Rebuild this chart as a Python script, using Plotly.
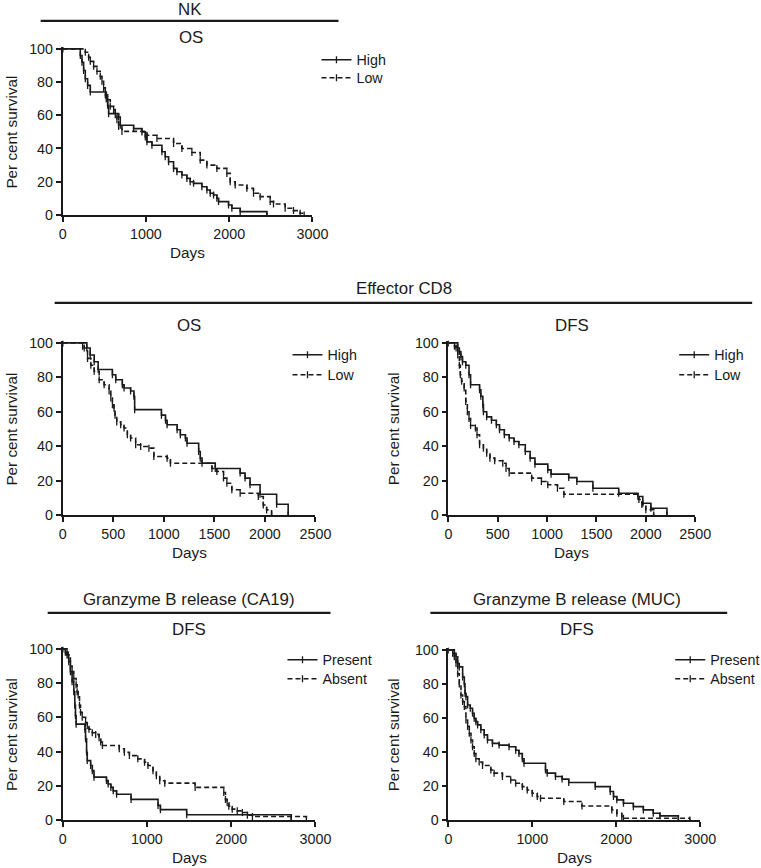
import plotly.graph_objects as go

# ---------------- DATA (Kaplan-Meier step points: days, per cent survival) ----------------
nk_high_days = [0, 212, 232, 252, 272, 300, 332, 524, 540, 552, 672, 692, 852, 952, 992, 1012, 1072,
                1192, 1232, 1272, 1332, 1372, 1432, 1492, 1532, 1572, 1672, 1732, 1772, 1812, 1852,
                1872, 1992, 2032, 2132, 2452]
nk_high_surv = [100, 96, 92, 87, 82, 78, 74, 70, 66, 61, 59, 54, 52, 50, 47, 44, 42,
                38, 35, 32, 28, 26, 24, 22, 20, 19, 17, 15, 13, 12, 10,
                8, 6, 4, 2, 0]
nk_low_days = [0, 272, 312, 332, 372, 412, 452, 472, 492, 512, 540, 572, 612, 632, 652, 672, 712,
               1012, 1132, 1332, 1432, 1552, 1652, 1732, 1852, 1972, 2012, 2072, 2212, 2292, 2372,
               2492, 2532, 2672, 2772, 2852, 2900]
nk_low_surv = [100, 98, 95, 92.5, 89.5, 86.5, 83.5, 80.5, 76.5, 72.4, 69.4, 65.4, 63.4, 60.4, 57.3, 53.3, 50.3,
               48, 46, 43, 40, 37.6, 33, 30, 28, 25, 20, 18, 16, 13, 11,
               8, 6.6, 4, 2.6, 1, 0]

cd8os_high_days = [0, 239, 272, 312, 351, 492, 525, 590, 607, 672, 705, 712, 977, 1017, 1033, 1132,
                   1164, 1214, 1230, 1345, 1361, 1378, 1509, 1755, 1804, 1853, 1952, 2116, 2230]
cd8os_high_surv = [100, 97, 93, 89, 84.5, 81.5, 78.6, 75.7, 73.8, 72, 69, 61.2, 58, 55, 52.4, 49.5,
                   46.6, 44.7, 41.7, 36.9, 33, 30.1, 27, 24.3, 21.4, 17.5, 12, 6.2, 0]
cd8os_low_days = [0, 197, 213, 246, 279, 312, 361, 410, 459, 476, 492, 508, 518, 535, 574, 607, 640,
                  672, 722, 771, 853, 902, 1033, 1066, 1476, 1525, 1591, 1624, 1673, 1755, 1935,
                  1984, 2017, 2066]
cd8os_low_surv = [100, 98, 97, 91, 87, 83.5, 78.6, 75.7, 72, 68, 64, 62, 58, 54, 52.4, 50.5, 46.6,
                  44.7, 40.8, 39.8, 38.8, 34, 33, 30, 27, 25.2, 21.4, 18.4, 14.6, 12.6, 10.7,
                  5.8, 2.9, 0]

cd8dfs_high_days = [0, 95, 111, 127, 143, 176, 209, 225, 316, 329, 349, 355, 388, 437, 486, 518, 567,
                    616, 665, 714, 779, 828, 877, 1007, 1040, 1219, 1301, 1464, 1725, 1920, 1969,
                    2051, 2214]
cd8dfs_high_surv = [100, 97, 95, 92, 89, 87, 81.5, 75.7, 72.8, 69, 64, 60, 57, 55, 52.4, 49.5, 46.6,
                    44.7, 42.7, 40.8, 36.9, 33, 29.5, 26.2, 23.7, 21.7, 19.4, 15.5, 12.6, 10.7, 6.8,
                    3.9, 0]
cd8dfs_low_days = [0, 62, 78, 95, 111, 121, 134, 160, 176, 192, 209, 225, 274, 290, 316, 355, 388,
                   421, 469, 551, 584, 616, 844, 942, 1007, 1105, 1170, 1930, 1960, 2000, 2080]
cd8dfs_low_surv = [100, 98, 97, 93, 87, 81.5, 77.7, 73.8, 66, 60, 56, 52, 50.5, 46.6, 40.8, 38.8, 35.9,
                   33, 31.5, 30, 27, 24.3, 21.4, 19.4, 17.5, 15.5, 12, 9, 6, 3, 0]

ca19_present_days = [0, 32, 52, 72, 92, 112, 132, 144, 152, 160, 264, 272, 284, 292, 332, 352, 372,
                     520, 540, 572, 600, 640, 812, 1132, 1160, 1472, 2712]
ca19_present_surv = [100, 98, 96.5, 92.5, 86.7, 80.8, 75, 67, 61, 56, 53, 47.5, 39.6, 34.7, 31.8, 28.8, 25,
                     23, 21, 19, 17, 15, 12, 8.5, 6, 3, 0]
ca19_absent_days = [0, 52, 64, 92, 112, 132, 160, 172, 184, 200, 212, 232, 272, 292, 312, 352, 392,
                    432, 452, 472, 672, 732, 792, 892, 972, 1012, 1072, 1112, 1152, 1212, 1572,
                    1912, 1932, 1952, 1972, 2012, 2072, 2132, 2192, 2252, 2892]
ca19_absent_surv = [100, 98, 96.5, 90, 86.7, 82.7, 79, 75, 73, 67, 63, 60, 57, 55, 53, 51, 50,
                    48, 45.5, 43.5, 41.6, 39.6, 37.6, 35.7, 33.7, 31.8, 28.8, 25.9, 22.9, 21.5, 19,
                    16, 12, 10, 8, 6.3, 5.3, 4.3, 2.7, 2, 0]

muc_present_days = [0, 71, 91, 111, 130, 170, 190, 198, 209, 229, 261, 288, 308, 328, 348, 387, 427,
                    466, 525, 604, 723, 802, 841, 881, 901, 1157, 1177, 1276, 1355, 1434, 1750,
                    1928, 1967, 2007, 2086, 2204, 2323, 2441, 2520, 2740]
muc_present_surv = [100, 98, 96, 92, 90, 84, 80, 74.5, 72.5, 67.6, 65.7, 62.7, 59.8, 57.8, 55.9, 53, 50,
                    47, 45, 44, 43, 41, 39, 36, 33.3, 29.4, 27.5, 25.5, 24, 22, 19.6,
                    16.7, 13.7, 11.8, 9.8, 7.8, 5.9, 3.9, 2.4, 0]
muc_absent_days = [0, 51, 71, 91, 111, 130, 150, 170, 190, 209, 229, 249, 269, 288, 308, 328, 367,
                   407, 506, 545, 644, 743, 802, 881, 940, 999, 1059, 1098, 1375, 1592, 1947,
                   2007, 2066, 2086, 2876]
muc_absent_surv = [100, 98, 96, 92, 86, 80, 73.5, 69.6, 66.7, 58.8, 55, 51, 47, 43, 39, 36, 34,
                   32, 29.4, 27.5, 25.5, 23.5, 21.6, 19.6, 17.6, 15.7, 13.7, 12.7, 10.8, 8.2, 5.9,
                   3.9, 2, 1, 0]

x_ticks_3000 = [0, 1000, 2000, 3000]
x_ticks_2500 = [0, 500, 1000, 1500, 2000, 2500]
y_ticks = [0, 20, 40, 60, 80, 100]

# ---------------- LAYOUT HELPERS ----------------
# Positions below are given in picture pixels (761x868). The photographed page showed a
# steady scale/offset relative to CSS pixels, so positions are mapped through it.
SX, SY, OX, OY = 0.975, 0.984, 3.3, 6.1
S = (SX + SY) / 2
W, H = 778, 876
FONT = "Liberation Sans, Arial, Helvetica, sans-serif"
INK = "#1a1a1a"


def px(x):
    return ((x - OX) / SX) / W


def py(y):
    return 1 - ((y - OY) / SY) / H


def fs(size):
    return round(size / S, 2)


# legend entries: (text-start x, centre y of first entry, centre y of second entry)
panels = [
    dict(k="", x0=62, x1=312, ytop=49, ybot=215, xmax=3000, ticks=x_ticks_3000,
         series=[("High", nk_high_days, nk_high_surv, "solid"),
                 ("Low", nk_low_days, nk_low_surv, "5px,3px")],
         leg=(356, 60, 78)),
    dict(k="2", x0=62, x1=315, ytop=343, ybot=515, xmax=2500, ticks=x_ticks_2500,
         series=[("High", cd8os_high_days, cd8os_high_surv, "solid"),
                 ("Low", cd8os_low_days, cd8os_low_surv, "5px,3px")],
         leg=(327, 355, 375)),
    dict(k="3", x0=448, x1=695, ytop=343, ybot=515, xmax=2500, ticks=x_ticks_2500,
         series=[("High", cd8dfs_high_days, cd8dfs_high_surv, "solid"),
                 ("Low", cd8dfs_low_days, cd8dfs_low_surv, "5px,3px")],
         leg=(714, 355, 375)),
    dict(k="4", x0=62, x1=315, ytop=649, ybot=820, xmax=3000, ticks=x_ticks_3000,
         series=[("Present", ca19_present_days, ca19_present_surv, "solid"),
                 ("Absent", ca19_absent_days, ca19_absent_surv, "5px,3px")],
         leg=(322, 660, 679)),
    dict(k="5", x0=448, x1=700, ytop=650, ybot=820, xmax=3000, ticks=x_ticks_3000,
         series=[("Present", muc_present_days, muc_present_surv, "solid"),
                 ("Absent", muc_absent_days, muc_absent_surv, "5px,3px")],
         leg=(710, 660, 679)),
]

fig = go.Figure()
layout = dict(
    width=W, height=H,
    margin=dict(l=0, r=0, t=0, b=0),
    paper_bgcolor="white", plot_bgcolor="white",
    font=dict(family=FONT, size=fs(14), color=INK),
    showlegend=True,
)

annotations = []
shapes = []
leg_counter = 0

for p in panels:
    k = p["k"]
    ext = (p["ybot"] - p["ytop"]) * 0.012
    axis_common = dict(
        showline=True, linecolor=INK, linewidth=1.6,
        ticks="outside", ticklen=5, tickwidth=1.6, tickcolor=INK,
        showgrid=False, zeroline=False,
        tickfont=dict(family=FONT, size=fs(14), color=INK),
    )
    layout["xaxis" + k] = dict(
        axis_common,
        domain=[px(p["x0"]), px(p["x1"])],
        range=[0, p["xmax"]],
        tickvals=p["ticks"],
        anchor="y" + k,
    )
    layout["yaxis" + k] = dict(
        axis_common,
        domain=[py(p["ybot"]), py(p["ytop"] - ext)],
        range=[0, 101.2],
        tickvals=y_ticks,
        anchor="x" + k,
    )
    text_x, ly1, ly2 = p["leg"]
    for (name, t, s, dash), ly in zip(p["series"], (ly1, ly2)):
        leg_counter += 1
        legname = "legend" if leg_counter == 1 else "legend%d" % leg_counter
        layout[legname] = dict(
            x=px(text_x - 40), y=py(ly), xanchor="left", yanchor="middle",
            bgcolor="rgba(0,0,0,0)", borderwidth=0, itemwidth=30,
            font=dict(family=FONT, size=fs(14), color=INK), tracegroupgap=0,
        )
        fig.add_trace(go.Scatter(
            x=t, y=s, name=name, mode="lines+markers",
            line=dict(shape="hv", color=INK, width=1.6, dash=dash),
            marker=dict(symbol="line-ns-open", size=5, color=INK, line=dict(width=1.3, color=INK)),
            xaxis="x" + k, yaxis="y" + k, legend=legname,
            hoverinfo="skip",
        ))
    # axis titles (as text annotations)
    xc = (p["x0"] + p["x1"]) / 2
    annotations.append(dict(text="Days", x=px(xc), y=py(p["ybot"] + 38), xref="paper", yref="paper",
                            showarrow=False, xanchor="center", yanchor="middle",
                            font=dict(family=FONT, size=fs(15), color=INK)))
    ylab_x = 11 if p["x0"] < 200 else 393
    annotations.append(dict(text="Per cent survival", x=px(ylab_x), y=py((p["ytop"] + p["ybot"]) / 2),
                            xref="paper", yref="paper", showarrow=False, textangle=-90,
                            xanchor="center", yanchor="middle",
                            font=dict(family=FONT, size=fs(15), color=INK)))

# ---------------- group headers ----------------
headers = [
    # text, center x, text y, line x0, line x1, line y
    ("NK", 189, 10, 40, 338, 21),
    ("Effector CD8", 404, 289, 54, 752, 303),
    ("Granzyme B release (CA19)", 188, 600, 47, 330, 613),
    ("Granzyme B release (MUC)", 577, 600, 430, 727, 613),
]
for text, cx, ty, lx0, lx1, ly in headers:
    annotations.append(dict(text=text, x=px(cx), y=py(ty), xref="paper", yref="paper",
                            showarrow=False, xanchor="center", yanchor="middle",
                            font=dict(family=FONT, size=fs(16.5), color=INK)))
    shapes.append(dict(type="line", xref="paper", yref="paper",
                       x0=px(lx0), x1=px(lx1), y0=py(ly), y1=py(ly),
                       line=dict(color=INK, width=2.2)))

subtitles = [("OS", 190, 38), ("OS", 188, 326), ("DFS", 572, 326), ("DFS", 188, 630), ("DFS", 577, 630)]
for text, cx, ty in subtitles:
    annotations.append(dict(text=text, x=px(cx), y=py(ty), xref="paper", yref="paper",
                            showarrow=False, xanchor="center", yanchor="middle",
                            font=dict(family=FONT, size=fs(16.5), color=INK)))

layout["annotations"] = annotations
layout["shapes"] = shapes
fig.update_layout(**layout)

page_fit = ("document.documentElement.style.margin='0';"
            "document.documentElement.style.overflow='hidden';"
            "document.body.style.margin='0';"
            "document.body.style.overflow='hidden';")
fig.write_html("out.html", config={"displayModeBar": False}, post_script=page_fit)
